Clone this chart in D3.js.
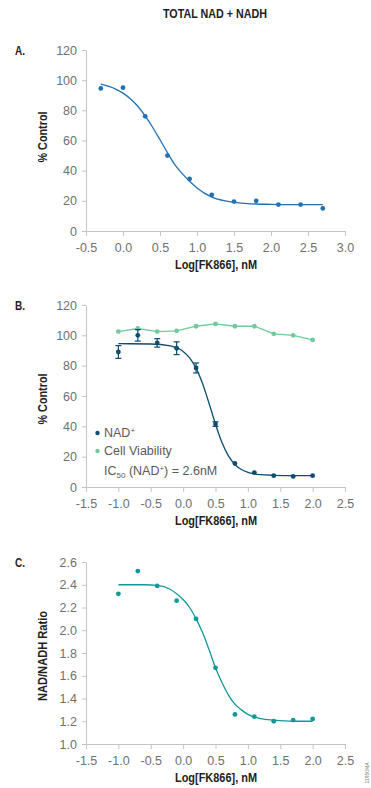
<!DOCTYPE html>
<html>
<head>
<meta charset="utf-8">
<script src="https://cdn.jsdelivr.net/npm/d3@7"></script>
<style>
  body { margin: 0; background: #fff; }
  svg { display: block; }
  .tick text { font-family: "Liberation Sans", Arial, sans-serif; font-size: 12.5px; fill: #707070; }
  .tick line, .domain { stroke: #c4c4c4; }
  .bold { font-family: "Liberation Sans", Arial, sans-serif; font-weight: bold; fill: #222; }
  .legend { font-family: "Liberation Sans", Arial, sans-serif; font-size: 12.5px; fill: #5a5a5a; }
</style>
</head>
<body>
<div id="chart"></div>
<script>
// panel A - total NAD + NADH
const doseA = [-0.3, 0, 0.3, 0.6, 0.9, 1.2, 1.5, 1.8, 2.1, 2.4, 2.7];
const totalNad = [94.5, 95, 76, 50, 34.5, 24, 19.5, 20, 17.5, 17.5, 15];
const fitDoseA = [-0.3, -0.1, 0, 0.1, 0.2, 0.3, 0.4, 0.5, 0.6, 0.7, 0.8, 0.9, 1.0, 1.2, 1.4, 1.6, 1.8, 2.0, 2.4, 2.7];
const fitA = [97.3, 94.1, 91.4, 87.7, 82.7, 76.3, 68.8, 60.5, 52, 44, 38, 33, 28.5, 22.5, 19.8, 18.5, 17.9, 17.7, 17.5, 17.5];

// panel B - NAD+ and cell viability
const doseB = [-1.0, -0.7, -0.4, -0.1, 0.2, 0.5, 0.8, 1.1, 1.4, 1.7, 2.0];
const nadPlus = [89, 100, 95, 91.5, 78.5, 41.5, 15.5, 9.5, 7.5, 7, 7.5];
const nadErr = [4.2, 3.8, 2.8, 4.2, 3.3, 1.5, 0.8, 0.6, 0.5, 0.5, 0.5];
const viability = [102.5, 104.5, 102.5, 103, 106, 107.5, 106, 106, 101, 100, 97];
const fitDoseB = [-1.0, -0.5, -0.2, 0, 0.1, 0.2, 0.3, 0.4, 0.5, 0.6, 0.7, 0.8, 0.9, 1.0, 1.2, 1.4, 1.7, 2.0];
const fitB = [94.5, 94.3, 93.0, 89.4, 85.2, 78.4, 68.2, 55.2, 41.4, 29.3, 20.5, 14.8, 11.5, 9.7, 8.1, 7.7, 7.5, 7.5];

// panel C - NAD/NADH ratio
const ratio = [2.32, 2.52, 2.39, 2.26, 2.10, 1.67, 1.26, 1.24, 1.20, 1.21, 1.22];
const fitDoseC = [-1.0, -0.6, -0.4, -0.2, -0.1, 0, 0.1, 0.2, 0.3, 0.4, 0.5, 0.6, 0.7, 0.8, 0.9, 1.0, 1.2, 1.4, 1.7, 2.0];
const fitC = [2.40, 2.40, 2.395, 2.36, 2.32, 2.27, 2.20, 2.10, 1.98, 1.83, 1.67, 1.54, 1.43, 1.35, 1.30, 1.26, 1.223, 1.21, 1.20, 1.20];

const xTicksA = [-0.5, 0, 0.5, 1, 1.5, 2, 2.5, 3];
const xTicksBC = [-1.5, -1, -0.5, 0, 0.5, 1, 1.5, 2, 2.5];
const yTicksPct = [0, 20, 40, 60, 80, 100, 120];
const yTicksRatio = [1.0, 1.2, 1.4, 1.6, 1.8, 2.0, 2.2, 2.4, 2.6];

const width = 371;
const height = 788;
const left = 86;
const right = 345;

const svg = d3.select('#chart')
  .append('svg')
  .attr('width', width)
  .attr('height', height);

// condensed bold headings: squeeze a regular bold face to the narrow width
function boldText(sel, txt, size, len) {
  return sel.append('text')
    .attr('class', 'bold')
    .style('font-size', size + 'px')
    .attr('textLength', len)
    .attr('lengthAdjust', 'spacingAndGlyphs')
    .text(txt);
}

boldText(svg, 'TOTAL NAD + NADH', 13, 104)
  .attr('x', 163)
  .attr('y', 18);

function drawPanel(opts) {
  const x = d3.scaleLinear().domain(opts.xDomain).range([left, right]);
  const y = d3.scaleLinear().domain(opts.yDomain).range([opts.bottom, opts.top]);

  svg.append('g')
    .attr('transform', `translate(0, ${opts.bottom})`)
    .call(d3.axisBottom(x).tickValues(opts.xTicks).tickSize(5).tickPadding(7).tickSizeOuter(0)
      .tickFormat(d => d.toFixed(1)));

  svg.append('g')
    .attr('transform', `translate(${left}, 0)`)
    .call(d3.axisLeft(y).tickValues(opts.yTicks).tickSize(4).tickPadding(5).tickSizeOuter(0)
      .tickFormat(opts.yFormat));

  boldText(svg, opts.panel, 13, 10)
    .attr('x', 15)
    .attr('y', opts.top + 5);

  boldText(svg, 'Log[FK866], nM', 13.5, 82)
    .attr('x', 175)
    .attr('y', opts.bottom + 38);

  boldText(svg, opts.yTitle, 13.5, opts.yTitleLen)
    .attr('transform', `translate(47, ${opts.yTitleAt + opts.yTitleLen / 2}) rotate(-90)`);

  return { x, y };
}

function drawFit(s, xs, ys, color) {
  const line = d3.line()
    .x((d, i) => s.x(xs[i]))
    .y(d => s.y(d))
    .curve(d3.curveMonotoneX);
  svg.append('path')
    .datum(ys)
    .attr('fill', 'none')
    .attr('stroke', color)
    .attr('stroke-width', 1.3)
    .attr('d', line);
}

function drawDots(s, xs, ys, color) {
  svg.append('g')
    .selectAll('circle')
    .data(ys)
    .enter()
    .append('circle')
    .attr('cx', (d, i) => s.x(xs[i]))
    .attr('cy', d => s.y(d))
    .attr('r', 2.4)
    .attr('fill', color);
}

// A
const colorA = '#2070b4';
const sA = drawPanel({
  panel: 'A.', top: 50, bottom: 231,
  xDomain: [-0.5, 3], yDomain: [0, 120],
  xTicks: xTicksA, yTicks: yTicksPct, yFormat: d => d,
  yTitle: '% Control', yTitleAt: 137, yTitleLen: 51
});
drawFit(sA, fitDoseA, fitA, colorA);
drawDots(sA, doseA, totalNad, colorA);

// B
const colorNad = '#0f4c6e';
const colorViab = '#6fcb9d';
const sB = drawPanel({
  panel: 'B.', top: 305, bottom: 487,
  xDomain: [-1.5, 2.5], yDomain: [0, 120],
  xTicks: xTicksBC, yTicks: yTicksPct, yFormat: d => d,
  yTitle: '% Control', yTitleAt: 399, yTitleLen: 51
});

svg.append('path')
  .datum(viability)
  .attr('fill', 'none')
  .attr('stroke', colorViab)
  .attr('stroke-width', 1.3)
  .attr('d', d3.line().x((d, i) => sB.x(doseB[i])).y(d => sB.y(d)));
drawDots(sB, doseB, viability, colorViab);

drawFit(sB, fitDoseB, fitB, colorNad);

const errBars = svg.append('g')
  .attr('stroke', colorNad)
  .attr('stroke-width', 1.2);
nadPlus.forEach((v, i) => {
  if (nadErr[i] < 1) return;
  const cx = sB.x(doseB[i]);
  const y0 = sB.y(v - nadErr[i]);
  const y1 = sB.y(v + nadErr[i]);
  errBars.append('line').attr('x1', cx).attr('x2', cx).attr('y1', y0).attr('y2', y1);
  errBars.append('line').attr('x1', cx - 3).attr('x2', cx + 3).attr('y1', y0).attr('y2', y0);
  errBars.append('line').attr('x1', cx - 3).attr('x2', cx + 3).attr('y1', y1).attr('y2', y1);
});
drawDots(sB, doseB, nadPlus, colorNad);

// legend
const legend = svg.append('g');
legend.append('circle').attr('cx', 97.5).attr('cy', 433).attr('r', 2.2).attr('fill', colorNad);
legend.append('circle').attr('cx', 97.5).attr('cy', 451).attr('r', 2.2).attr('fill', colorViab);
const t1 = legend.append('text').attr('class', 'legend').attr('x', 104).attr('y', 437);
t1.append('tspan').text('NAD');
t1.append('tspan').attr('dy', -4).style('font-size', '8px').text('+');
legend.append('text').attr('class', 'legend').attr('x', 104).attr('y', 455).text('Cell Viability');
const t3 = legend.append('text').attr('class', 'legend').attr('x', 104).attr('y', 475);
t3.append('tspan').text('IC');
t3.append('tspan').attr('dy', 3).style('font-size', '8px').text('50');
t3.append('tspan').attr('dy', -3).text(' (NAD');
t3.append('tspan').attr('dy', -4).style('font-size', '8px').text('+');
t3.append('tspan').attr('dy', 4).text(') = 2.6nM');

// C
const colorC = '#11999a';
const sC = drawPanel({
  panel: 'C.', top: 562, bottom: 744,
  xDomain: [-1.5, 2.5], yDomain: [1.0, 2.6],
  xTicks: xTicksBC, yTicks: yTicksRatio, yFormat: d => d.toFixed(1),
  yTitle: 'NAD/NADH Ratio', yTitleAt: 656, yTitleLen: 90
});
drawFit(sC, fitDoseC, fitC, colorC);
drawDots(sC, doseB, ratio, colorC);

svg.append('text')
  .attr('transform', 'translate(369, 773) rotate(-90)')
  .attr('text-anchor', 'middle')
  .style('font-family', '"Liberation Sans", Arial, sans-serif')
  .style('font-size', '5px')
  .style('fill', '#777')
  .text('11950MA');
</script>
</body>
</html>
